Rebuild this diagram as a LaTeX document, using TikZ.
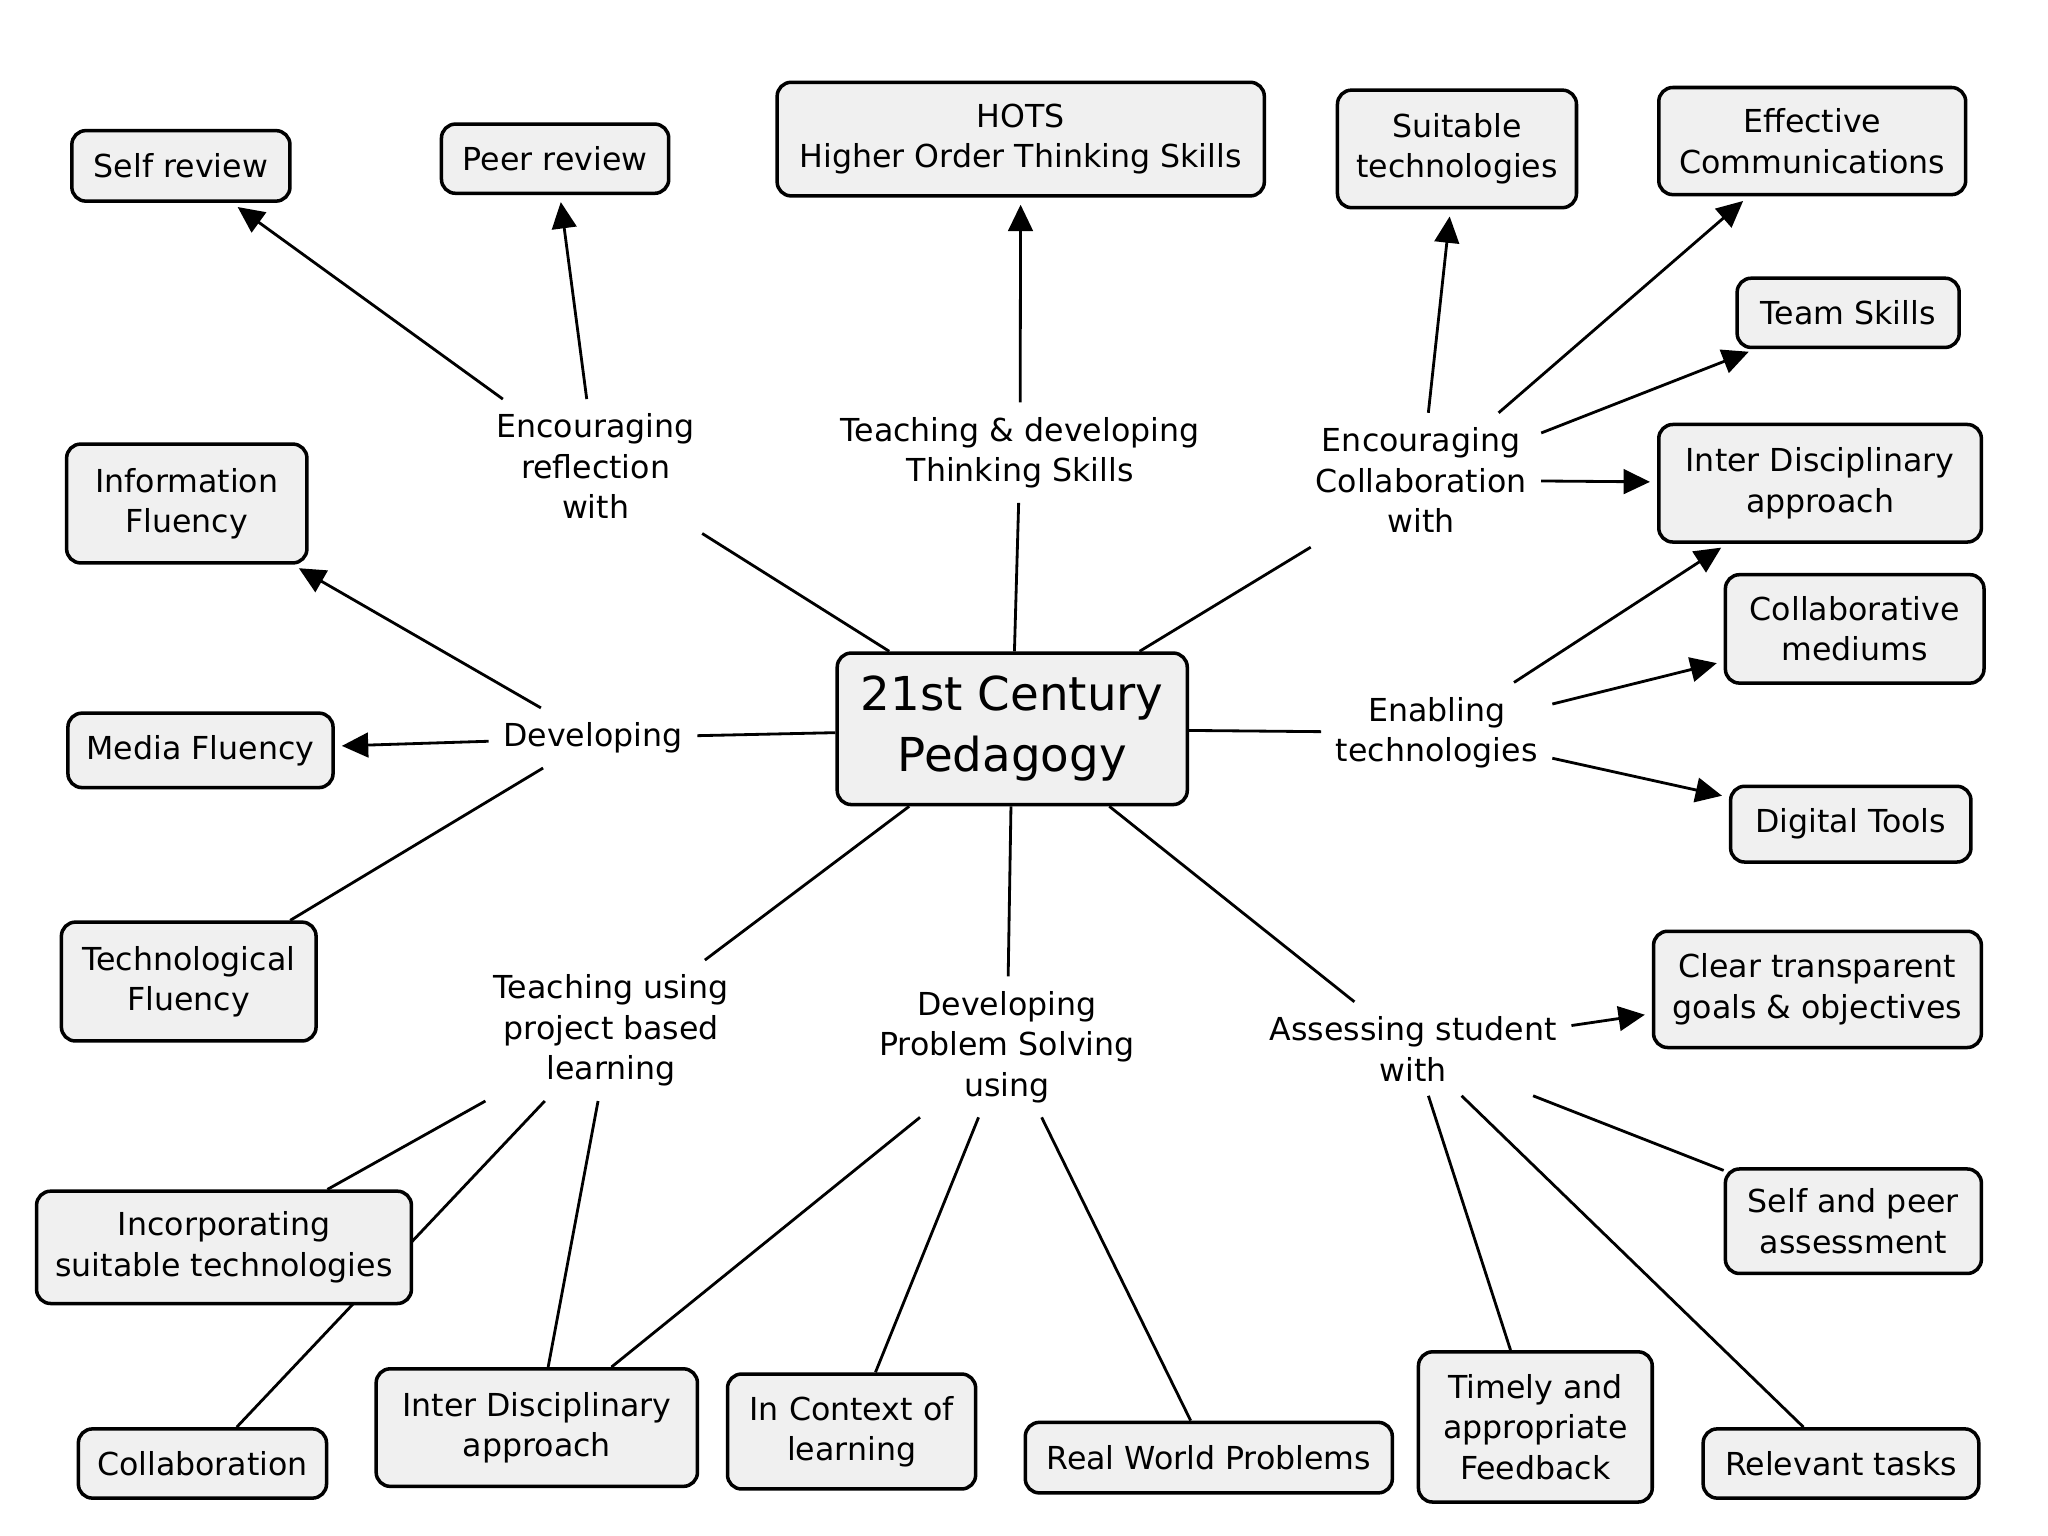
\documentclass[tikz,border=0pt]{standalone}
\usepackage{fontspec}
\setmainfont{DejaVu Sans}
\usetikzlibrary{arrows.meta,backgrounds}
\newcommand\shpx{0.01306cm}
\newcommand\boxfont{\fontsize{9}{11.5}\selectfont}
\newcommand\bigfont{\fontsize{13.3}{17.4}\selectfont}
\definecolor{boxgray}{RGB}{240,240,240}
\tikzset{
  cbox/.style 2 args={draw=black, rounded corners=4pt, fill=boxgray, line width=1pt,
    align=center, minimum width=#1*\shpx, minimum height=#2*\shpx, inner sep=2pt, font=\boxfont},
  lbl/.style={align=center, inner sep=4pt, font=\boxfont},
  ln/.style={line width=0.8pt},
  arr/.style={line width=0.8pt, -{Triangle[length=7.5pt,width=7pt]}, shorten >=2pt},
}
\begin{document}
\begin{tikzpicture}[x=0.01306cm, y=-0.01306cm]
\useasboundingbox (0,0) rectangle (1568,1176);
% concepts
\node[cbox={167}{54}] (selfrev) at (138.5,127) {Self review};
\node[cbox={174}{53}] (peerrev) at (425,121.5) {Peer review};
\node[cbox={373}{87}] (hots) at (781.5,106.5) {HOTS\\Higher Order Thinking Skills};
\node[cbox={183}{90}] (suit) at (1115.5,114) {Suitable\\technologies};
\node[cbox={235}{82}] (effc) at (1387.5,108) {Effective\\Communications};
\node[cbox={170}{53}] (team) at (1415,239.5) {Team Skills};
\node[cbox={247}{90}] (interR) at (1393.5,370) {Inter Disciplinary\\approach};
\node[cbox={198}{83}] (collabm) at (1420,481.5) {Collaborative\\mediums};
\node[cbox={184}{58}] (digi) at (1417,631) {Digital Tools};
\node[cbox={251}{89}] (clear) at (1391.5,757.5) {Clear transparent\\goals \& objectives};
\node[cbox={196}{80}] (selfpeer) at (1419,935) {Self and peer\\assessment};
\node[cbox={211}{53}] (relev) at (1409.5,1120.5) {Relevant tasks};
\node[cbox={179}{115}] (timely) at (1175.5,1092.5) {Timely and\\appropriate\\Feedback};
\node[cbox={281}{54}] (realw) at (925.5,1116) {Real World Problems};
\node[cbox={190}{88}] (context) at (652,1096) {In Context of\\learning};
\node[cbox={246}{90}] (interB) at (411,1093) {Inter Disciplinary\\approach};
\node[cbox={190}{53}] (collab) at (155,1120.5) {Collaboration};
\node[cbox={287}{86}] (incorp) at (171.5,955) {Incorporating\\suitable technologies};
\node[cbox={195}{91}] (techf) at (144.5,751.5) {Technological\\Fluency};
\node[cbox={203}{57}] (media) at (153.5,574.5) {Media Fluency};
\node[cbox={184}{91}] (info) at (143,385.5) {Information\\Fluency};
\node[cbox={268}{116}, font=\bigfont] (ped) at (775,558) {21st Century\\Pedagogy};
% linking phrases
\node[lbl] (lref) at (456,357) {Encouraging\\reflection\\with};
\node[lbl] (lthink) at (781,346.5) {Teaching \& developing\\Thinking Skills};
\node[lbl] (lcoll) at (1088,367.5) {Encouraging\\Collaboration\\with};
\node[lbl] (ldev) at (454,565) {Developing};
\node[lbl] (lenab) at (1100,561) {Enabling\\technologies};
\node[lbl] (lproj) at (468,789) {Teaching using\\project based\\learning};
\node[lbl] (lprob) at (771,801.5) {Developing\\Problem Solving\\using};
\node[lbl] (lass) at (1082,803) {Assessing student\\with};
% connectors
\begin{pgfonlayer}{background}
\fill[white] (0,0) rectangle (1568,1176);
\draw[ln] (ped) -- (lref);
\draw[ln] (ped) -- (lthink);
\draw[ln] (ped) -- (lcoll);
\draw[ln] (ped) -- (ldev);
\draw[ln] (ped) -- (lenab);
\draw[ln] (ped) -- (lproj);
\draw[ln] (ped) -- (lprob);
\draw[ln] (ped) -- (lass);
\draw[arr] (lref) -- (selfrev);
\draw[arr] (lref) -- (peerrev);
\draw[arr] (lthink) -- (hots);
\draw[arr] (lcoll) -- (suit);
\draw[arr] (lcoll) -- (effc);
\draw[arr] (lcoll) -- (team);
\draw[arr] (lcoll) -- (interR);
\draw[arr] (ldev) -- (info);
\draw[arr] (ldev) -- (media);
\draw[ln] (ldev) -- (techf);
\draw[arr] (lenab) -- (interR);
\draw[arr] (lenab) -- (collabm);
\draw[arr] (lenab) -- (digi);
\draw[ln] (lproj) -- (incorp);
\draw[ln] (lproj) -- (collab);
\draw[ln] (lproj) -- (interB);
\draw[ln] (lprob) -- (interB);
\draw[ln] (lprob) -- (context);
\draw[ln] (lprob) -- (realw);
\draw[arr] (lass) -- (clear);
\draw[ln] (lass) -- (selfpeer);
\draw[ln] (lass) -- (timely);
\draw[ln] (lass) -- (relev);
\end{pgfonlayer}
\end{tikzpicture}
\end{document}
